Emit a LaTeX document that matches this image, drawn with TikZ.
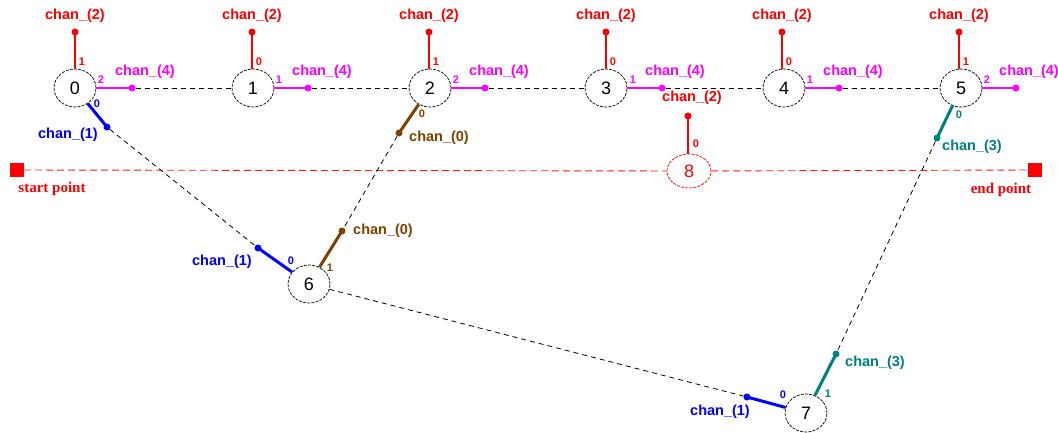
\documentclass[tikz,border=0pt]{standalone}
\usepackage{fontspec}
\setmainfont{Liberation Sans}
\newfontfamily\serifbold{Liberation Serif}
\usetikzlibrary{shapes.geometric}
\definecolor{brn}{RGB}{128,64,0}
\definecolor{tl}{RGB}{0,128,128}
\definecolor{mg}{RGB}{255,0,255}
\begin{document}
\begin{tikzpicture}[x=1pt,y=-1pt,
 vtx/.style={ellipse,draw=black,dash pattern=on 3pt off 1.2pt,line width=0.7pt,minimum width=42pt,minimum height=38pt,inner sep=0pt,font=\fontsize{18}{18}\selectfont},
 lbl/.style={font=\fontsize{14.5}{14.5}\selectfont\bfseries,inner sep=0pt},
 port/.style={font=\fontsize{11}{11}\selectfont\bfseries,inner sep=0pt},
 dot/.style={circle,fill,inner sep=0pt,minimum size=7pt},
 stubA/.style={line width=2pt},
 stubB/.style={line width=3pt},
 link/.style={black,dash pattern=on 5pt off 4pt,line width=0.8pt},
 redlink/.style={red!90!white,dash pattern=on 7pt off 4pt,line width=0.9pt},
 sq/.style={rectangle,fill=red,minimum size=14pt,inner sep=0pt},
 pt/.style={font=\fontsize{15}{15}\selectfont\serifbold\bfseries,inner sep=0pt,text=red},
 ]
\useasboundingbox (0,0) rectangle (1058,432);
% vertices
\node[vtx] (n0) at (75,88) {0};
\node[vtx] (n1) at (253,88) {1};
\node[vtx] (n2) at (430,88) {2};
\node[vtx] (n3) at (606,88) {3};
\node[vtx] (n4) at (784,88) {4};
\node[vtx] (n5) at (961,88) {5};
\node[vtx] (n6) at (309,284) {6};
\node[vtx] (n7) at (806,413) {7};
\node[vtx,draw=red,text=red,minimum width=44pt,minimum height=34pt] (n8) at (689,171) {8};
% top red stubs
\foreach \n/\x/\p in {0/75/1,1/252/0,2/429/1,3/606/0,4/782/0,5/959/1}{
  \node[dot,red] (td\n) at (\x,32) {};
  \draw[red,stubA] (td\n.center) -- (n\n.north -| td\n);
  \node[lbl,red] (tl\n) at (\x,16) {chan\_(2)};
  \node[port,red] (tp\n) at (\x+7,62) {\p};
}
% magenta right stubs
\foreach \n/\x/\lx/\p in {0/132/145/2,1/308/322/1,2/485/499/2,3/662/675/1,4/839/853/1,5/1016/1029/2}{
  \node[dot,mg] (md\n) at (\x,88) {};
  \draw[mg,stubA] (n\n.east) -- (md\n.center);
  \node[lbl,mg] (ml\n) at (\lx,72) {chan\_(4)};
}
\node[port,mg] (mp0) at (101,80) {2};
\node[port,mg] (mp1) at (279,80) {1};
\node[port,mg] (mp2) at (456,80) {2};
\node[port,mg] (mp3) at (633,80) {1};
\node[port,mg] (mp4) at (810,80) {1};
\node[port,mg] (mp5) at (987,80) {2};
% horizontal links
\draw[link] (md0) -- (n1);
\draw[link] (md1) -- (n2);
\draw[link] (md2) -- (n3);
\draw[link] (md3) -- (n4);
\draw[link] (md4) -- (n5);
% node 8
\node[dot,red] (d8) at (688,116) {};
\draw[red,stubA] (d8.center) -- (n8.north -| d8);
\node[lbl,red] (l8) at (692,98) {chan\_(2)};
\node[port,red] (p8) at (696,144) {0};
% start / end
\node[sq] (s) at (17,170) {};
\node[sq] (e) at (1035,170) {};
\node[pt] (sl) at (52,189) {start point};
\node[pt] (el) at (1001,190) {end point};
\draw[redlink] (s) -- (n8);
\draw[redlink] (n8) -- (e);
% blue 0 -> 6
\node[dot,blue] (b0) at (107,127) {};
\draw[blue,stubB] (n0) -- (b0.center);
\node[port,blue] (bp0) at (97,104) {0};
\node[lbl,blue] (bl0) at (68,135) {chan\_(1)};
\node[dot,blue] (b6) at (258,248) {};
\draw[blue,stubB] (n6) -- (b6.center);
\node[port,blue] (bp6) at (291,261) {0};
\node[lbl,blue] (bl6) at (222,262) {chan\_(1)};
\draw[link] (b0) -- (b6);
% brown 2 -> 6
\node[dot,brn] (r2) at (399,133) {};
\draw[brn,stubB] (n2) -- (r2.center);
\node[port,brn] (rp2) at (422,114) {0};
\node[lbl,brn] (rl2) at (439,138) {chan\_(0)};
\node[dot,brn] (r6) at (342,231) {};
\draw[brn,stubB] (n6) -- (r6.center);
\node[port,brn] (rp6) at (330,268) {1};
\node[lbl,brn] (rl6) at (383,231) {chan\_(0)};
\draw[link] (r2) -- (r6);
% blue 6 -> 7
\node[dot,blue] (b7) at (747,397) {};
\draw[blue,stubB] (n7) -- (b7.center);
\node[port,blue] (bp7) at (783,395) {0};
\node[lbl,blue] (bl7) at (720,412) {chan\_(1)};
\draw[link] (n6) -- (b7);
% teal 5 -> 7
\node[dot,tl] (c5) at (937,138) {};
\draw[tl,stubB] (n5) -- (c5.center);
\node[port,tl] (cp5) at (959,115) {0};
\node[lbl,tl] (cl5) at (972,147) {chan\_(3)};
\node[dot,tl] (c7) at (836,354) {};
\draw[tl,stubB] (n7) -- (c7.center);
\node[port,tl] (cp7) at (828,394) {1};
\node[lbl,tl] (cl7) at (875,363) {chan\_(3)};
\draw[link] (c5) -- (c7);
\end{tikzpicture}
\end{document}
